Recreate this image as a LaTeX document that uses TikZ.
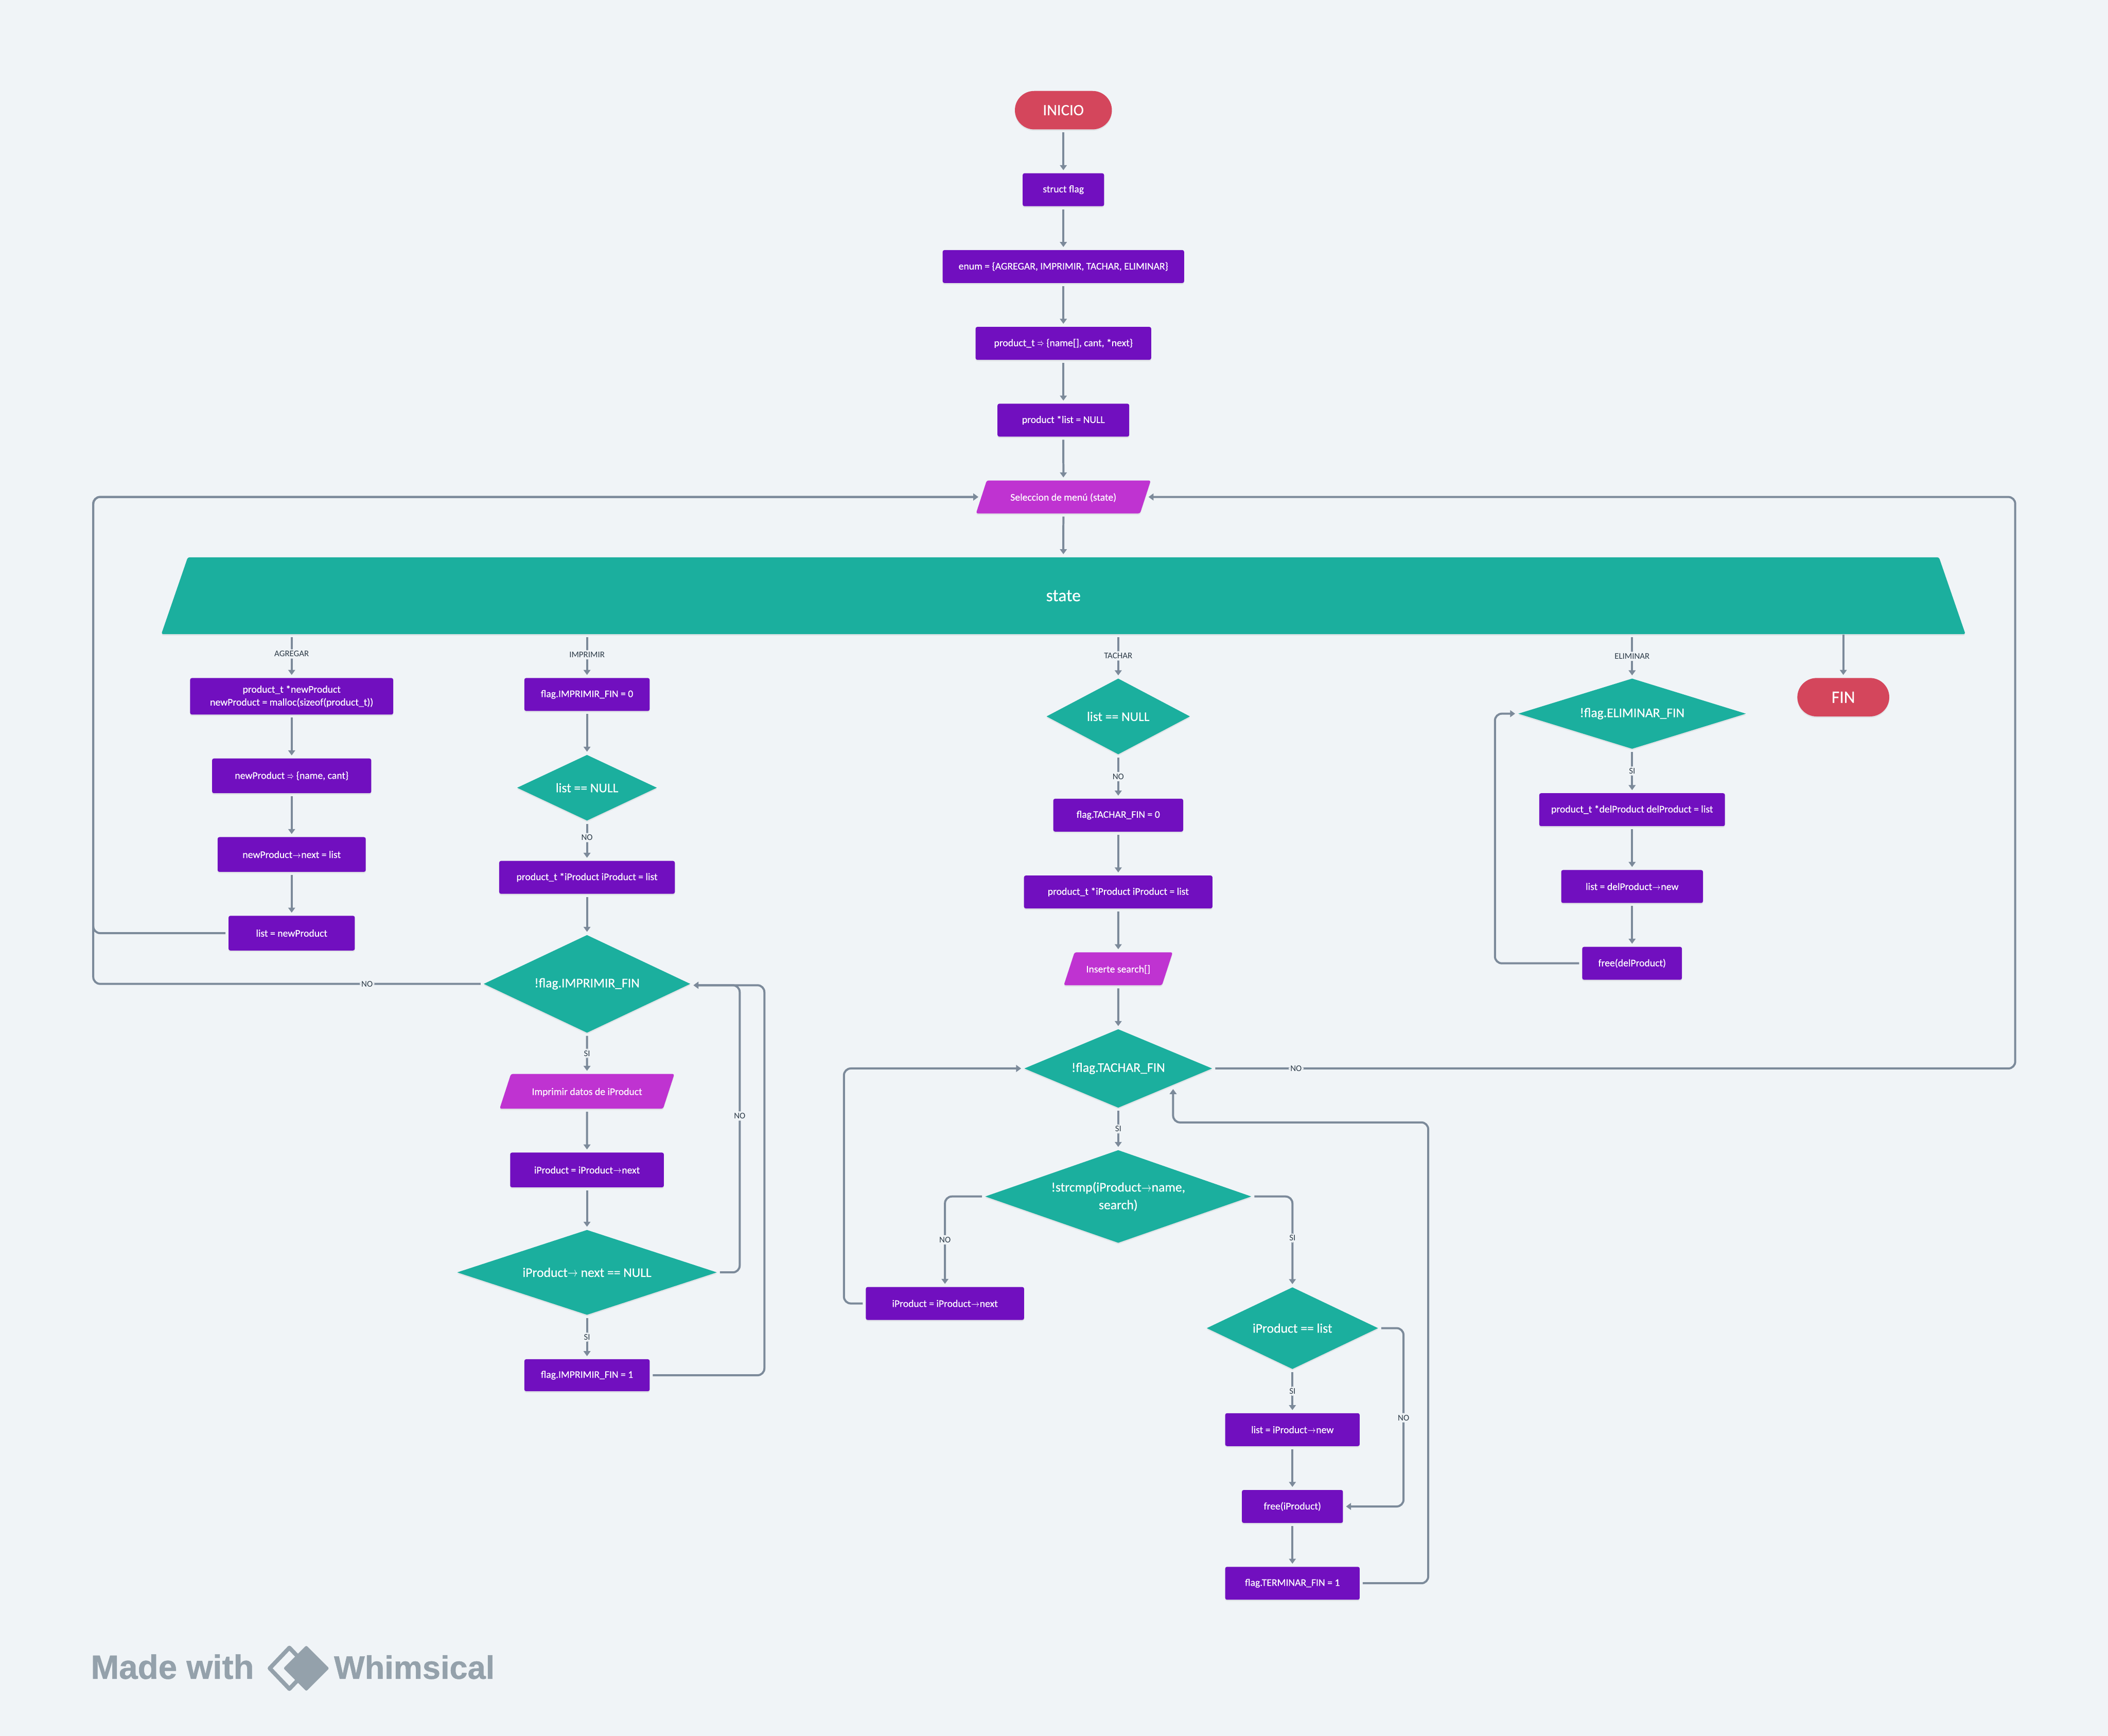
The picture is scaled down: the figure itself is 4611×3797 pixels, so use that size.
\documentclass[tikz,border=0pt]{standalone}
\usepackage{fontspec}
\usetikzlibrary{arrows.meta,shapes.geometric,shadows}
\setmainfont{Carlito}
\newfontfamily\boxfont[FakeBold=.35]{Carlito}
\newfontfamily\logofont[BoldFeatures={FakeBold=.8}]{Liberation Sans}
\definecolor{bgc}{HTML}{F0F4F7}
\definecolor{purp}{HTML}{710FBF}
\definecolor{teal}{HTML}{1BAF9E}
\definecolor{crim}{HTML}{D4465C}
\definecolor{magn}{HTML}{BF33D1}
\definecolor{linec}{HTML}{7C8A9A}
\definecolor{labc}{HTML}{2C3A47}
\definecolor{logoc}{HTML}{94A1AB}
\newcommand{\nxt}{\scalebox{.75}[1]{$\rightarrow$}}
\newcommand{\impl}{\scalebox{.6}[1]{$\Rightarrow$}}
\tikzset{
  softshadow/.style={drop shadow={opacity=.13,shadow xshift=0cm,shadow yshift=-.03cm}},
  procbox/.style={rectangle,rounded corners=.04cm,fill=purp,text=white,inner sep=0pt,softshadow,
    align=center,font=\fontsize{6.3}{8}\boxfont},
  inbox/.style={trapezium,trapezium left angle=72,trapezium right angle=108,trapezium stretches body=true,
    text height=.44cm,text depth=.28cm,
    rounded corners=.04cm,fill=magn,text=white,inner sep=0pt,softshadow,font=\fontsize{6.3}{8}\boxfont},
  decide/.style={diamond,fill=teal,text=white,inner sep=0pt,softshadow,align=center,
    font=\fontsize{8.2}{11}\boxfont},
  term/.style={rectangle,rounded corners=.42cm,fill=crim,text=white,inner sep=0pt,softshadow,
    font=\fontsize{9.8}{11}\boxfont},
  conn/.style={draw=linec,line width=.045cm,rounded corners=.15cm,-{Triangle[width=.15cm,length=.11cm]},
    shorten >=.06cm,shorten <=.06cm},
  lab/.style={fill=bgc,text=labc,inner sep=1.1pt,font=\fontsize{5.4}{6}\selectfont}
}
\begin{document}
\begin{tikzpicture}[x=.01cm,y=-.01cm]
\fill[bgc] (0,0) rectangle (4611,3797);
\useasboundingbox (0,0) rectangle (4611,3797);
% ---------- top column ----------
\node[term,minimum width=2.12cm,minimum height=.84cm] (inicio) at (2326,241) {INICIO};
\node[procbox,minimum width=1.78cm,minimum height=.72cm] (sflag) at (2326,415) {struct flag};
\node[procbox,minimum width=5.28cm,minimum height=.72cm] (enumb) at (2326,583) {enum = \{AGREGAR, IMPRIMIR, TACHAR, ELIMINAR\}};
\node[procbox,minimum width=3.84cm,minimum height=.72cm] (prodt) at (2326,751) {product\_t \impl{} \{name[], cant, *next\}};
\node[procbox,minimum width=2.88cm,minimum height=.72cm] (plist) at (2326,919) {product *list = NULL};
\node[inbox,minimum width=3.82cm] (menu) at (2326,1087) {Seleccion de menú (state)};
\node[trapezium,trapezium left angle=71,trapezium right angle=71,trapezium stretches body=true,rounded corners=.04cm,
  fill=teal,text=white,inner sep=0pt,softshadow,font=\fontsize{10.8}{12}\boxfont,
  text height=.96cm,text depth=.72cm,minimum width=39.44cm] (state) at (2326,1303) {state};
\node[term,font=\fontsize{10.8}{12}\boxfont,minimum width=2.01cm,minimum height=.84cm] (fin) at (4032,1525) {FIN};
% ---------- agregar ----------
\node[procbox,minimum width=4.44cm,minimum height=.80cm] (nwa) at (638,1523) {product\_t *newProduct\\newProduct = malloc(sizeof(product\_t))};
\node[procbox,minimum width=3.48cm,minimum height=.76cm] (nwb) at (638,1697) {newProduct \impl{} \{name, cant\}};
\node[procbox,minimum width=3.24cm,minimum height=.76cm] (nwc) at (638,1869) {newProduct\nxt next = list};
\node[procbox,minimum width=2.76cm,minimum height=.76cm] (nwd) at (638,2041) {list = newProduct};
% ---------- imprimir ----------
\node[procbox,minimum width=2.74cm,minimum height=.72cm] (ima) at (1284,1519) {flag.IMPRIMIR\_FIN = 0};
\node[decide,aspect=2.12,minimum width=3.06cm,minimum height=1.44cm] (imb) at (1284,1723) {list == NULL};
\node[procbox,minimum width=3.84cm,minimum height=.72cm] (imc) at (1284,1919) {product\_t *iProduct iProduct = list};
\node[decide,aspect=2.1,minimum width=4.52cm,minimum height=2.14cm] (imd) at (1284,2152) {!flag.IMPRIMIR\_FIN};
\node[inbox,text height=.46cm,text depth=.30cm,minimum width=3.82cm] (ime) at (1284,2387) {Imprimir datos de iProduct};
\node[procbox,minimum width=3.36cm,minimum height=.76cm] (imf) at (1284,2559) {iProduct = iProduct\nxt next};
\node[decide,aspect=3,minimum width=5.68cm,minimum height=1.86cm] (img) at (1284,2783) {iProduct\nxt{} next == NULL};
\node[procbox,minimum width=2.74cm,minimum height=.70cm] (imh) at (1284,3008) {flag.IMPRIMIR\_FIN = 1};
% ---------- tachar ----------
\node[decide,aspect=1.9,minimum width=3.14cm,minimum height=1.66cm] (taa) at (2446,1567) {list == NULL};
\node[procbox,minimum width=2.84cm,minimum height=.72cm] (tab) at (2446,1783) {flag.TACHAR\_FIN = 0};
\node[procbox,minimum width=4.12cm,minimum height=.72cm] (tac) at (2446,1951) {product\_t *iProduct iProduct = list};
\node[inbox,minimum width=2.38cm] (tad) at (2446,2119) {Inserte search[]};
\node[decide,aspect=2.4,minimum width=4.11cm,minimum height=1.72cm] (tae) at (2446,2337) {!flag.TACHAR\_FIN};
\node[decide,aspect=2.87,minimum width=5.82cm,minimum height=2.03cm] (taf) at (2446,2617) {!strcmp(iProduct\nxt name,\\search)};
\node[procbox,minimum width=3.46cm,minimum height=.72cm] (tag) at (2067,2851) {iProduct = iProduct\nxt next};
\node[decide,aspect=2.1,minimum width=3.75cm,minimum height=1.79cm] (tah) at (2827,2905) {iProduct == list};
\node[procbox,minimum width=2.94cm,minimum height=.72cm] (tai) at (2827,3127) {list = iProduct\nxt new};
\node[procbox,minimum width=2.21cm,minimum height=.72cm] (taj) at (2827,3295) {free(iProduct)};
\node[procbox,minimum width=2.94cm,minimum height=.72cm] (tak) at (2827,3463) {flag.TERMINAR\_FIN = 1};
% ---------- eliminar ----------
\node[decide,aspect=3.2,minimum width=4.98cm,minimum height=1.54cm] (ela) at (3570,1561) {!flag.ELIMINAR\_FIN};
\node[procbox,minimum width=4.06cm,minimum height=.72cm] (elb) at (3570,1771) {product\_t *delProduct delProduct = list};
\node[procbox,minimum width=3.10cm,minimum height=.72cm] (elc) at (3570,1939) {list = delProduct\nxt new};
\node[procbox,minimum width=2.18cm,minimum height=.72cm] (eld) at (3570,2107) {free(delProduct)};
% rails
\coordinate (railm) at (204,1500);
\coordinate (railn) at (1618,2441);
\coordinate (railf) at (1672,2600);
\coordinate (railb) at (1846,2600);
\coordinate (railr) at (4408,1700);
\coordinate (railc) at (3070,3101);
\coordinate (railt) at (3124,2455);
\coordinate (tachin) at (2566,2376);
\coordinate (raile) at (3270,1800);
% straight connectors
\foreach \a/\b in {inicio/sflag,sflag/enumb,enumb/prodt,prodt/plist,plist/menu,menu/state,
  nwa/nwb,nwb/nwc,nwc/nwd,ima/imb,imc/imd,ime/imf,imf/img,
  tab/tac,tac/tad,tad/tae,tai/taj,taj/tak,elb/elc,elc/eld}
  \draw[conn] (\a) -- (\b);
% labelled connectors
\draw[conn] (state.south -| nwa) -- node[lab,pos=.45] (lagr) {AGREGAR} (nwa);
\draw[conn] (state.south -| ima) -- node[lab,pos=.47] (limp) {IMPRIMIR} (ima);
\draw[conn] (state.south -| taa) -- node[lab,pos=.49] (ltac) {TACHAR} (taa);
\draw[conn] (state.south -| ela) -- node[lab,pos=.5] (leli) {ELIMINAR} (ela);
\draw[conn,shorten <=0pt] (state.south -| fin) -- (fin);
\draw[conn] (imb) -- node[lab,pos=.42] (lno1) {NO} (imc);
\draw[conn] (imd) -- node[lab] (lsi1) {SI} (ime);
\draw[conn] (img) -- node[lab] (lsi2) {SI} (imh);
\draw[conn] (taa) -- node[lab] (lno2) {NO} (tab);
\draw[conn] (tae) -- node[lab] (lsi3) {SI} (taf);
\draw[conn] (tah) -- node[lab] (lsi4) {SI} (tai);
\draw[conn] (ela) -- node[lab] (lsi5) {SI} (elb);
% loop backs
\draw[conn] (nwd.west) -| (railm) |- (menu.west);
\draw[conn] (imd.west) -| node[lab,pos=.149] (lno3) {NO} (railm) |- (menu.west);
\draw[conn] (img.east) -| (railn) node[lab] (lno4) {NO} |- ([yshift=-.03cm]imd.east);
\draw[conn] (imh.east) -| (railf) |- ([yshift=-.03cm]imd.east);
\draw[conn] (tae.east) -| node[lab,pos=.052] (lno5) {NO} (railr) |- (menu.east);
\draw[conn] (taf.west) -| node[lab,pos=.74] (lno6) {NO} (tag.north);
\draw[conn] (taf.east) -| node[lab,pos=.73] (lsi6) {SI} (tah.north);
\draw[conn] (tag.west) -| (railb) |- (tae.west);
\draw[conn] (tah.east) -| (railc) node[lab] (lno7) {NO} |- (taj.east);
\draw[conn] (tak.east) -| (railt) -| (tachin);
\draw[conn] (eld.west) -| (raile) |- (ela.west);
% ---------- logo ----------
\node[anchor=base west,inner sep=0pt,text=logoc,font=\fontsize{21}{22}\logofont\bfseries] (made) at (198,3672) {Made with};
\node[anchor=base west,inner sep=0pt,text=logoc,font=\fontsize{20.2}{22}\logofont\bfseries] (whim) at (730,3672) {Whimsical};
\draw[logoc,line width=.09cm,line join=round] (633,3604) -- (590,3649) -- (633,3694) -- (676,3649) -- cycle;
\fill[logoc,rounded corners=.03cm] (670,3599) -- (720,3649) -- (670,3699) -- (620,3649) -- cycle;
\end{tikzpicture}
\end{document}
